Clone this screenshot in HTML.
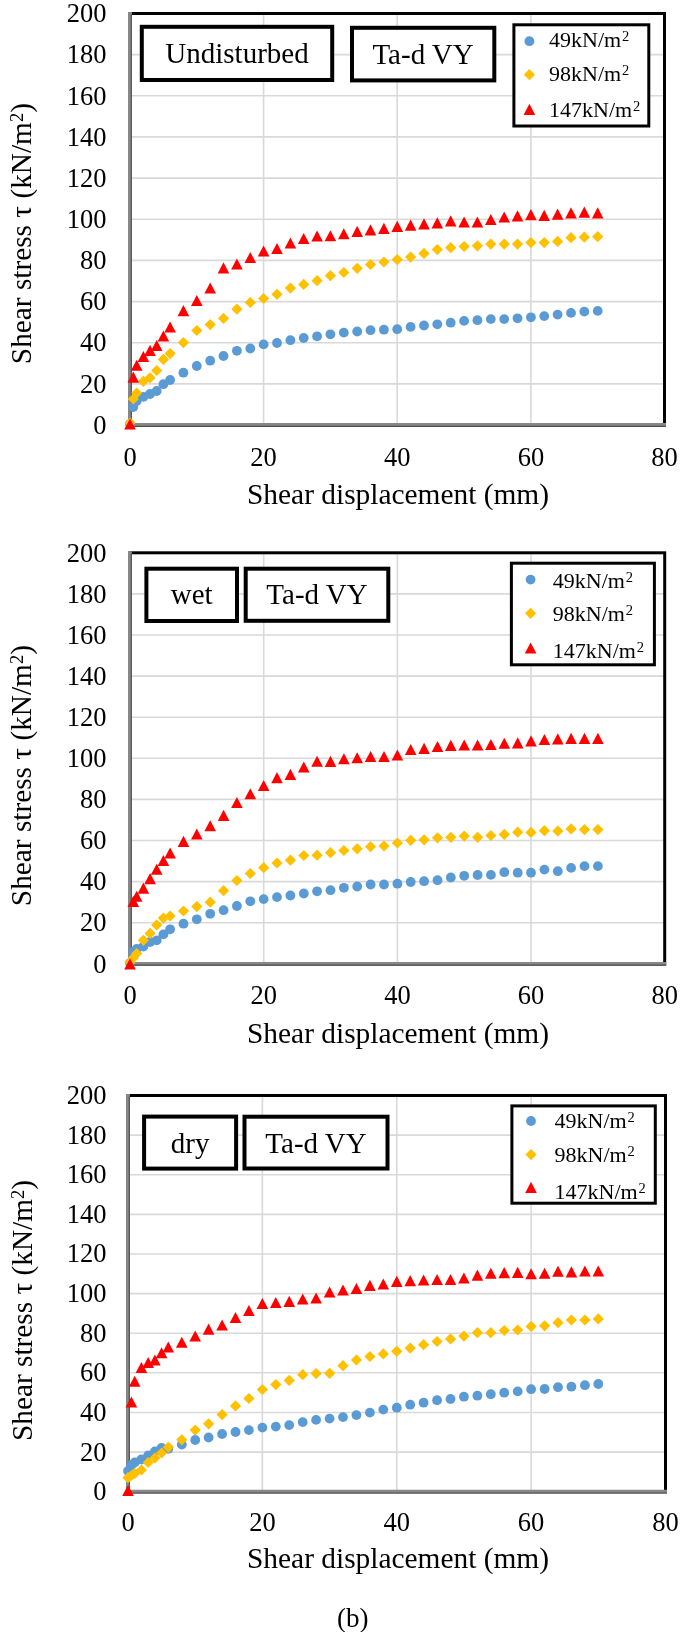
<!DOCTYPE html>
<html><head><meta charset="utf-8"><style>
html,body{margin:0;padding:0;background:#fff;}
svg{display:block;filter:blur(0.45px);}
text{font-family:"Liberation Serif",serif;fill:#000;}
</style></head><body>
<svg width="685" height="1632" viewBox="0 0 685 1632">
<rect width="685" height="1632" fill="#fff"/>
<path d="M130 383.9H664.5M130 342.7H664.5M130 301.6H664.5M130 260.4H664.5M130 219.2H664.5M130 178.1H664.5M130 136.9H664.5M130 95.8H664.5M130 54.6H664.5M263.6 13.5V425M397.2 13.5V425M530.9 13.5V425" stroke="#d9d9d9" stroke-width="1.6" fill="none"/>
<rect x="130" y="13.5" width="534.5" height="411.5" fill="none" stroke="#000" stroke-width="3"/>
<path d="M130 12V425H666" stroke="#888" stroke-width="3.8" fill="none"/>
<path d="M131.3 14.5V425" stroke="#555" stroke-width="1.2" fill="none"/>
<path d="M128.1 426.3H666" stroke="#505050" stroke-width="1.2" fill="none"/>
<g text-anchor="end" font-size="26.5"><text x="106.5" y="433.7">0</text><text x="106.5" y="392.6">20</text><text x="106.5" y="351.4">40</text><text x="106.5" y="310.2">60</text><text x="106.5" y="269.1">80</text><text x="106.5" y="227.9">100</text><text x="106.5" y="186.8">120</text><text x="106.5" y="145.6">140</text><text x="106.5" y="104.5">160</text><text x="106.5" y="63.3">180</text><text x="106.5" y="22.2">200</text></g>
<g text-anchor="middle" font-size="26.5"><text x="130" y="465.5">0</text><text x="263.6" y="465.5">20</text><text x="397.2" y="465.5">40</text><text x="530.9" y="465.5">60</text><text x="664.5" y="465.5">80</text></g>
<text x="398" y="504" text-anchor="middle" font-size="29.4">Shear displacement (mm)</text>
<text transform="translate(31.3 233.6) rotate(-90)" text-anchor="middle" font-size="29.3">Shear stress τ (kN/m<tspan font-size="18.5" dy="-8.5">2</tspan><tspan dy="8.5">)</tspan></text>
<g fill="#5b9bd5"><circle cx="130" cy="424" r="4.9"/><circle cx="133.3" cy="407" r="4.9"/><circle cx="136.7" cy="401" r="4.9"/><circle cx="143.4" cy="396.8" r="4.9"/><circle cx="150" cy="394" r="4.9"/><circle cx="156.7" cy="391" r="4.9"/><circle cx="163.4" cy="384.2" r="4.9"/><circle cx="170.1" cy="380" r="4.9"/><circle cx="183.4" cy="372.7" r="4.9"/><circle cx="196.8" cy="366" r="4.9"/><circle cx="210.2" cy="360.7" r="4.9"/><circle cx="223.5" cy="356" r="4.9"/><circle cx="236.9" cy="350.8" r="4.9"/><circle cx="250.3" cy="348.5" r="4.9"/><circle cx="263.6" cy="344.4" r="4.9"/><circle cx="277" cy="343" r="4.9"/><circle cx="290.4" cy="340.2" r="4.9"/><circle cx="303.7" cy="338" r="4.9"/><circle cx="317.1" cy="336.3" r="4.9"/><circle cx="330.4" cy="334.3" r="4.9"/><circle cx="343.8" cy="332.6" r="4.9"/><circle cx="357.2" cy="331.5" r="4.9"/><circle cx="370.5" cy="330.2" r="4.9"/><circle cx="383.9" cy="329.7" r="4.9"/><circle cx="397.2" cy="329.2" r="4.9"/><circle cx="410.6" cy="326.9" r="4.9"/><circle cx="424" cy="325.5" r="4.9"/><circle cx="437.3" cy="324.3" r="4.9"/><circle cx="450.7" cy="322.7" r="4.9"/><circle cx="464.1" cy="320.9" r="4.9"/><circle cx="477.4" cy="320.2" r="4.9"/><circle cx="490.8" cy="319.1" r="4.9"/><circle cx="504.2" cy="319.1" r="4.9"/><circle cx="517.5" cy="318.3" r="4.9"/><circle cx="530.9" cy="317.3" r="4.9"/><circle cx="544.2" cy="316.1" r="4.9"/><circle cx="557.6" cy="314.6" r="4.9"/><circle cx="571" cy="312.9" r="4.9"/><circle cx="584.3" cy="311.6" r="4.9"/><circle cx="597.7" cy="310.9" r="4.9"/></g>
<g fill="#ffc000"><path d="M130 417.4L135.6 423L130 428.6L124.4 423Z"/><path d="M133.3 393.4L138.9 399L133.3 404.6L127.7 399Z"/><path d="M136.7 387.4L142.3 393L136.7 398.6L131.1 393Z"/><path d="M143.4 375.7L149 381.3L143.4 386.9L137.8 381.3Z"/><path d="M150 372.2L155.6 377.8L150 383.4L144.4 377.8Z"/><path d="M156.7 364.9L162.3 370.5L156.7 376.1L151.1 370.5Z"/><path d="M163.4 353.8L169 359.4L163.4 365L157.8 359.4Z"/><path d="M170.1 348L175.7 353.6L170.1 359.2L164.5 353.6Z"/><path d="M183.4 337L189 342.6L183.4 348.2L177.8 342.6Z"/><path d="M196.8 324.9L202.4 330.5L196.8 336.1L191.2 330.5Z"/><path d="M210.2 319L215.8 324.6L210.2 330.2L204.6 324.6Z"/><path d="M223.5 312.8L229.1 318.4L223.5 324L217.9 318.4Z"/><path d="M236.9 303.6L242.5 309.2L236.9 314.8L231.3 309.2Z"/><path d="M250.3 296.9L255.9 302.5L250.3 308.1L244.7 302.5Z"/><path d="M263.6 292.9L269.2 298.5L263.6 304.1L258 298.5Z"/><path d="M277 288.7L282.6 294.3L277 299.9L271.4 294.3Z"/><path d="M290.4 282.5L296 288.1L290.4 293.7L284.8 288.1Z"/><path d="M303.7 278.8L309.3 284.4L303.7 290L298.1 284.4Z"/><path d="M317.1 275.1L322.7 280.7L317.1 286.3L311.5 280.7Z"/><path d="M330.4 270.1L336 275.7L330.4 281.3L324.8 275.7Z"/><path d="M343.8 266.9L349.4 272.5L343.8 278.1L338.2 272.5Z"/><path d="M357.2 262.7L362.8 268.3L357.2 273.9L351.6 268.3Z"/><path d="M370.5 258.9L376.1 264.5L370.5 270.1L364.9 264.5Z"/><path d="M383.9 256.4L389.5 262L383.9 267.6L378.3 262Z"/><path d="M397.2 254L402.9 259.6L397.2 265.2L391.6 259.6Z"/><path d="M410.6 251.5L416.2 257.1L410.6 262.7L405 257.1Z"/><path d="M424 247.8L429.6 253.4L424 259L418.4 253.4Z"/><path d="M437.3 244L442.9 249.6L437.3 255.2L431.7 249.6Z"/><path d="M450.7 242.1L456.3 247.7L450.7 253.3L445.1 247.7Z"/><path d="M464.1 240.9L469.7 246.5L464.1 252.1L458.5 246.5Z"/><path d="M477.4 240.2L483 245.8L477.4 251.4L471.8 245.8Z"/><path d="M490.8 238.5L496.4 244.1L490.8 249.7L485.2 244.1Z"/><path d="M504.2 238.5L509.8 244.1L504.2 249.7L498.6 244.1Z"/><path d="M517.5 238.5L523.1 244.1L517.5 249.7L511.9 244.1Z"/><path d="M530.9 237L536.5 242.6L530.9 248.2L525.3 242.6Z"/><path d="M544.2 237L549.8 242.6L544.2 248.2L538.6 242.6Z"/><path d="M557.6 235.8L563.2 241.4L557.6 247L552 241.4Z"/><path d="M571 232.1L576.6 237.7L571 243.3L565.4 237.7Z"/><path d="M584.3 231.6L589.9 237.2L584.3 242.8L578.7 237.2Z"/><path d="M597.7 231.1L603.3 236.7L597.7 242.3L592.1 236.7Z"/></g>
<g fill="#ff0000"><path d="M130 418.5L135.8 429.6L124.2 429.6Z"/><path d="M133.3 371.6L139.1 382.7L127.5 382.7Z"/><path d="M136.7 359.7L142.5 370.8L130.9 370.8Z"/><path d="M143.4 351L149.2 362.1L137.6 362.1Z"/><path d="M150 344.8L155.8 355.9L144.2 355.9Z"/><path d="M156.7 340L162.5 351.1L150.9 351.1Z"/><path d="M163.4 330.5L169.2 341.6L157.6 341.6Z"/><path d="M170.1 321.5L175.9 332.6L164.3 332.6Z"/><path d="M183.4 305.1L189.2 316.2L177.6 316.2Z"/><path d="M196.8 294.9L202.6 306L191 306Z"/><path d="M210.2 282.4L216 293.5L204.4 293.5Z"/><path d="M223.5 262.3L229.3 273.4L217.7 273.4Z"/><path d="M236.9 258.5L242.7 269.6L231.1 269.6Z"/><path d="M250.3 252L256.1 263.1L244.5 263.1Z"/><path d="M263.6 245.5L269.4 256.6L257.8 256.6Z"/><path d="M277 243L282.8 254.1L271.2 254.1Z"/><path d="M290.4 237.5L296.2 248.6L284.6 248.6Z"/><path d="M303.7 233L309.5 244.1L297.9 244.1Z"/><path d="M317.1 230.4L322.9 241.5L311.3 241.5Z"/><path d="M330.4 230.2L336.2 241.3L324.6 241.3Z"/><path d="M343.8 228.2L349.6 239.3L338 239.3Z"/><path d="M357.2 225.8L363 236.9L351.4 236.9Z"/><path d="M370.5 224.3L376.3 235.4L364.7 235.4Z"/><path d="M383.9 222.8L389.7 233.9L378.1 233.9Z"/><path d="M397.2 220.8L403.1 231.9L391.4 231.9Z"/><path d="M410.6 219.6L416.4 230.7L404.8 230.7Z"/><path d="M424 218.3L429.8 229.4L418.2 229.4Z"/><path d="M437.3 217.3L443.1 228.4L431.5 228.4Z"/><path d="M450.7 215.3L456.5 226.4L444.9 226.4Z"/><path d="M464.1 216.5L469.9 227.6L458.3 227.6Z"/><path d="M477.4 216.5L483.2 227.6L471.6 227.6Z"/><path d="M490.8 214L496.6 225.1L485 225.1Z"/><path d="M504.2 211.5L510 222.6L498.4 222.6Z"/><path d="M517.5 210.3L523.3 221.4L511.7 221.4Z"/><path d="M530.9 209.1L536.7 220.2L525.1 220.2Z"/><path d="M544.2 209.8L550 220.9L538.4 220.9Z"/><path d="M557.6 208.6L563.4 219.7L551.8 219.7Z"/><path d="M571 207.3L576.8 218.4L565.2 218.4Z"/><path d="M584.3 206.6L590.1 217.7L578.5 217.7Z"/><path d="M597.7 207.3L603.5 218.4L591.9 218.4Z"/></g>
<rect x="141.8" y="26.8" width="190.4" height="53.2" fill="#fff" stroke="#000" stroke-width="4"/>
<text x="237" y="63.4" text-anchor="middle" font-size="29">Undisturbed</text>
<rect x="352" y="27.8" width="142.3" height="52.6" fill="#fff" stroke="#000" stroke-width="4"/>
<text x="423.1" y="64.4" text-anchor="middle" font-size="29">Ta-d VY</text>
<rect x="513.9" y="24.8" width="134.9" height="101.2" fill="#fff" stroke="#000" stroke-width="3"/>
<circle cx="529.4" cy="41.2" r="4.9" fill="#5b9bd5"/>
<g fill="#ffc000"><path d="M529.4 69.1L535 74.7L529.4 80.3L523.8 74.7Z"/></g>
<g fill="#ff0000"><path d="M529.4 103.8L535.2 114.9L523.6 114.9Z"/></g>
<text x="549" y="46.8" font-size="22">49kN/m<tspan font-size="14.5" dx="0.8" dy="-6">2</tspan></text>
<text x="549" y="81.2" font-size="22">98kN/m<tspan font-size="14.5" dx="0.8" dy="-6">2</tspan></text>
<text x="549" y="117.4" font-size="22">147kN/m<tspan font-size="14.5" dx="0.8" dy="-6">2</tspan></text>
<path d="M130 922.7H664.7M130 881.6H664.7M130 840.5H664.7M130 799.4H664.7M130 758.3H664.7M130 717.2H664.7M130 676.1H664.7M130 635H664.7M130 593.9H664.7M263.7 552.8V963.8M397.4 552.8V963.8M531 552.8V963.8" stroke="#d9d9d9" stroke-width="1.6" fill="none"/>
<rect x="130" y="552.8" width="534.7" height="411" fill="none" stroke="#000" stroke-width="3"/>
<path d="M130 551.3V963.8H666.2" stroke="#888" stroke-width="3.8" fill="none"/>
<path d="M131.3 553.8V963.8" stroke="#555" stroke-width="1.2" fill="none"/>
<path d="M128.1 965.1H666.2" stroke="#505050" stroke-width="1.2" fill="none"/>
<g text-anchor="end" font-size="26.5"><text x="106.5" y="972.5">0</text><text x="106.5" y="931.4">20</text><text x="106.5" y="890.3">40</text><text x="106.5" y="849.2">60</text><text x="106.5" y="808.1">80</text><text x="106.5" y="767">100</text><text x="106.5" y="725.9">120</text><text x="106.5" y="684.8">140</text><text x="106.5" y="643.7">160</text><text x="106.5" y="602.6">180</text><text x="106.5" y="561.5">200</text></g>
<g text-anchor="middle" font-size="26.5"><text x="130" y="1004.3">0</text><text x="263.7" y="1004.3">20</text><text x="397.4" y="1004.3">40</text><text x="531" y="1004.3">60</text><text x="664.7" y="1004.3">80</text></g>
<text x="398" y="1042.7" text-anchor="middle" font-size="29.4">Shear displacement (mm)</text>
<text transform="translate(31.3 775.6) rotate(-90)" text-anchor="middle" font-size="29.3">Shear stress τ (kN/m<tspan font-size="18.5" dy="-8.5">2</tspan><tspan dy="8.5">)</tspan></text>
<g fill="#5b9bd5"><circle cx="130" cy="963" r="4.9"/><circle cx="133.3" cy="952" r="4.9"/><circle cx="136.7" cy="949" r="4.9"/><circle cx="143.4" cy="946.5" r="4.9"/><circle cx="150.1" cy="942" r="4.9"/><circle cx="156.7" cy="940.4" r="4.9"/><circle cx="163.4" cy="934.4" r="4.9"/><circle cx="170.1" cy="929.3" r="4.9"/><circle cx="183.5" cy="923.7" r="4.9"/><circle cx="196.8" cy="919.3" r="4.9"/><circle cx="210.2" cy="913.8" r="4.9"/><circle cx="223.6" cy="910.2" r="4.9"/><circle cx="236.9" cy="906" r="4.9"/><circle cx="250.3" cy="901.3" r="4.9"/><circle cx="263.7" cy="899.1" r="4.9"/><circle cx="277" cy="897.1" r="4.9"/><circle cx="290.4" cy="895.5" r="4.9"/><circle cx="303.8" cy="893.5" r="4.9"/><circle cx="317.1" cy="891.3" r="4.9"/><circle cx="330.5" cy="890.2" r="4.9"/><circle cx="343.9" cy="887.8" r="4.9"/><circle cx="357.2" cy="886.5" r="4.9"/><circle cx="370.6" cy="884.5" r="4.9"/><circle cx="384" cy="884.5" r="4.9"/><circle cx="397.4" cy="883.7" r="4.9"/><circle cx="410.7" cy="882" r="4.9"/><circle cx="424.1" cy="881.2" r="4.9"/><circle cx="437.5" cy="880.2" r="4.9"/><circle cx="450.8" cy="877.5" r="4.9"/><circle cx="464.2" cy="875.8" r="4.9"/><circle cx="477.6" cy="875" r="4.9"/><circle cx="490.9" cy="874.9" r="4.9"/><circle cx="504.3" cy="872.2" r="4.9"/><circle cx="517.7" cy="872.7" r="4.9"/><circle cx="531" cy="872.7" r="4.9"/><circle cx="544.4" cy="869.6" r="4.9"/><circle cx="557.8" cy="871.2" r="4.9"/><circle cx="571.1" cy="867.9" r="4.9"/><circle cx="584.5" cy="866.1" r="4.9"/><circle cx="597.9" cy="866.1" r="4.9"/></g>
<g fill="#ffc000"><path d="M130 956.4L135.6 962L130 967.6L124.4 962Z"/><path d="M133.3 952.4L138.9 958L133.3 963.6L127.7 958Z"/><path d="M136.7 947.9L142.3 953.5L136.7 959.1L131.1 953.5Z"/><path d="M143.4 934.7L149 940.3L143.4 945.9L137.8 940.3Z"/><path d="M150.1 927.8L155.7 933.4L150.1 939L144.5 933.4Z"/><path d="M156.7 919.4L162.3 925L156.7 930.6L151.1 925Z"/><path d="M163.4 912.5L169 918.1L163.4 923.7L157.8 918.1Z"/><path d="M170.1 910.4L175.7 916L170.1 921.6L164.5 916Z"/><path d="M183.5 905.4L189.1 911L183.5 916.6L177.9 911Z"/><path d="M196.8 901L202.4 906.6L196.8 912.2L191.2 906.6Z"/><path d="M210.2 896.6L215.8 902.2L210.2 907.8L204.6 902.2Z"/><path d="M223.6 885.1L229.2 890.7L223.6 896.3L218 890.7Z"/><path d="M236.9 874.9L242.5 880.5L236.9 886.1L231.3 880.5Z"/><path d="M250.3 867.9L255.9 873.5L250.3 879.1L244.7 873.5Z"/><path d="M263.7 862.1L269.3 867.7L263.7 873.3L258.1 867.7Z"/><path d="M277 857.4L282.6 863L277 868.6L271.4 863Z"/><path d="M290.4 854.6L296 860.2L290.4 865.8L284.8 860.2Z"/><path d="M303.8 849.9L309.4 855.5L303.8 861.1L298.2 855.5Z"/><path d="M317.1 849.6L322.7 855.2L317.1 860.8L311.5 855.2Z"/><path d="M330.5 847.1L336.1 852.7L330.5 858.3L324.9 852.7Z"/><path d="M343.9 844.9L349.5 850.5L343.9 856.1L338.3 850.5Z"/><path d="M357.2 843.2L362.8 848.8L357.2 854.4L351.6 848.8Z"/><path d="M370.6 841.1L376.2 846.7L370.6 852.3L365 846.7Z"/><path d="M384 840.4L389.6 846L384 851.6L378.4 846Z"/><path d="M397.4 837.4L403 843L397.4 848.6L391.8 843Z"/><path d="M410.7 834.7L416.3 840.3L410.7 845.9L405.1 840.3Z"/><path d="M424.1 834.2L429.7 839.8L424.1 845.4L418.5 839.8Z"/><path d="M437.5 832.2L443.1 837.8L437.5 843.4L431.9 837.8Z"/><path d="M450.8 831.7L456.4 837.3L450.8 842.9L445.2 837.3Z"/><path d="M464.2 830.5L469.8 836.1L464.2 841.7L458.6 836.1Z"/><path d="M477.6 831.7L483.2 837.3L477.6 842.9L472 837.3Z"/><path d="M490.9 829.9L496.5 835.5L490.9 841.1L485.3 835.5Z"/><path d="M504.3 828.8L509.9 834.4L504.3 840L498.7 834.4Z"/><path d="M517.7 826.6L523.3 832.2L517.7 837.8L512.1 832.2Z"/><path d="M531 826.8L536.6 832.4L531 838L525.4 832.4Z"/><path d="M544.4 825.1L550 830.7L544.4 836.3L538.8 830.7Z"/><path d="M557.8 825.5L563.4 831.1L557.8 836.7L552.2 831.1Z"/><path d="M571.1 823.3L576.7 828.9L571.1 834.5L565.5 828.9Z"/><path d="M584.5 824L590.1 829.6L584.5 835.2L578.9 829.6Z"/><path d="M597.9 824L603.5 829.6L597.9 835.2L592.3 829.6Z"/></g>
<g fill="#ff0000"><path d="M130 958.3L135.8 969.4L124.2 969.4Z"/><path d="M133.3 895.8L139.1 906.9L127.5 906.9Z"/><path d="M136.7 890.7L142.5 901.8L130.9 901.8Z"/><path d="M143.4 882.6L149.2 893.7L137.6 893.7Z"/><path d="M150.1 873.1L155.9 884.2L144.3 884.2Z"/><path d="M156.7 863.7L162.5 874.8L150.9 874.8Z"/><path d="M163.4 854.9L169.2 866L157.6 866Z"/><path d="M170.1 847.5L175.9 858.6L164.3 858.6Z"/><path d="M183.5 835.8L189.3 846.9L177.7 846.9Z"/><path d="M196.8 828.4L202.6 839.5L191 839.5Z"/><path d="M210.2 820.2L216 831.3L204.4 831.3Z"/><path d="M223.6 809.8L229.4 820.9L217.8 820.9Z"/><path d="M236.9 796.9L242.7 808L231.1 808Z"/><path d="M250.3 788.2L256.1 799.3L244.5 799.3Z"/><path d="M263.7 780L269.5 791.1L257.9 791.1Z"/><path d="M277 772.1L282.8 783.2L271.2 783.2Z"/><path d="M290.4 768.8L296.2 779.9L284.6 779.9Z"/><path d="M303.8 761.4L309.6 772.5L298 772.5Z"/><path d="M317.1 755.7L322.9 766.8L311.3 766.8Z"/><path d="M330.5 755.8L336.3 766.9L324.7 766.9Z"/><path d="M343.9 753.2L349.7 764.3L338.1 764.3Z"/><path d="M357.2 752.2L363 763.3L351.4 763.3Z"/><path d="M370.6 751L376.4 762.1L364.8 762.1Z"/><path d="M384 751L389.8 762.1L378.2 762.1Z"/><path d="M397.4 749.5L403.2 760.6L391.6 760.6Z"/><path d="M410.7 744L416.5 755.1L404.9 755.1Z"/><path d="M424.1 742.8L429.9 753.9L418.3 753.9Z"/><path d="M437.5 741L443.3 752.1L431.7 752.1Z"/><path d="M450.8 739.8L456.6 750.9L445 750.9Z"/><path d="M464.2 739.4L470 750.5L458.4 750.5Z"/><path d="M477.6 739.4L483.4 750.5L471.8 750.5Z"/><path d="M490.9 739L496.7 750.1L485.1 750.1Z"/><path d="M504.3 737.7L510.1 748.8L498.5 748.8Z"/><path d="M517.7 737.3L523.5 748.4L511.9 748.4Z"/><path d="M531 735.3L536.8 746.4L525.2 746.4Z"/><path d="M544.4 734L550.2 745.1L538.6 745.1Z"/><path d="M557.8 733.3L563.6 744.4L552 744.4Z"/><path d="M571.1 732.8L576.9 743.9L565.3 743.9Z"/><path d="M584.5 732.8L590.3 743.9L578.7 743.9Z"/><path d="M597.9 732.8L603.7 743.9L592.1 743.9Z"/></g>
<rect x="146.4" y="568.7" width="90.6" height="52.3" fill="#fff" stroke="#000" stroke-width="4"/>
<text x="191.7" y="603.8" text-anchor="middle" font-size="29">wet</text>
<rect x="245.7" y="568.7" width="142.6" height="52.1" fill="#fff" stroke="#000" stroke-width="4"/>
<text x="317" y="603.8" text-anchor="middle" font-size="29">Ta-d VY</text>
<rect x="511.4" y="563.2" width="143" height="101.6" fill="#fff" stroke="#000" stroke-width="3"/>
<circle cx="530.6" cy="579.6" r="4.9" fill="#5b9bd5"/>
<g fill="#ffc000"><path d="M530.6 607.7L536.2 613.3L530.6 618.9L525 613.3Z"/></g>
<g fill="#ff0000"><path d="M530.6 642.4L536.4 653.5L524.8 653.5Z"/></g>
<text x="552.8" y="587.5" font-size="22">49kN/m<tspan font-size="14.5" dx="0.8" dy="-6">2</tspan></text>
<text x="552.8" y="621.2" font-size="22">98kN/m<tspan font-size="14.5" dx="0.8" dy="-6">2</tspan></text>
<text x="552.8" y="658" font-size="22">147kN/m<tspan font-size="14.5" dx="0.8" dy="-6">2</tspan></text>
<path d="M128 1452.1H665.5M128 1412.5H665.5M128 1372.8H665.5M128 1333.2H665.5M128 1293.6H665.5M128 1254H665.5M128 1214.4H665.5M128 1174.7H665.5M128 1135.1H665.5M262.4 1095.5V1491.7M396.8 1095.5V1491.7M531.1 1095.5V1491.7" stroke="#d9d9d9" stroke-width="1.6" fill="none"/>
<rect x="128" y="1095.5" width="537.5" height="396.2" fill="none" stroke="#000" stroke-width="3"/>
<path d="M128 1094V1491.7H667" stroke="#888" stroke-width="3.8" fill="none"/>
<path d="M129.3 1096.5V1491.7" stroke="#555" stroke-width="1.2" fill="none"/>
<path d="M126.1 1493H667" stroke="#505050" stroke-width="1.2" fill="none"/>
<g text-anchor="end" font-size="26.5"><text x="106.5" y="1500.1">0</text><text x="106.5" y="1460.5">20</text><text x="106.5" y="1420.8">40</text><text x="106.5" y="1381.2">60</text><text x="106.5" y="1341.6">80</text><text x="106.5" y="1302">100</text><text x="106.5" y="1262.4">120</text><text x="106.5" y="1222.7">140</text><text x="106.5" y="1183.1">160</text><text x="106.5" y="1143.5">180</text><text x="106.5" y="1103.9">200</text></g>
<g text-anchor="middle" font-size="26.5"><text x="128" y="1530.7">0</text><text x="262.4" y="1530.7">20</text><text x="396.8" y="1530.7">40</text><text x="531.1" y="1530.7">60</text><text x="665.5" y="1530.7">80</text></g>
<text x="398" y="1567.8" text-anchor="middle" font-size="29.4">Shear displacement (mm)</text>
<text transform="translate(32 1310.5) rotate(-90)" text-anchor="middle" font-size="29.3">Shear stress τ (kN/m<tspan font-size="18.5" dy="-8.5">2</tspan><tspan dy="8.5">)</tspan></text>
<g fill="#5b9bd5"><circle cx="128" cy="1471" r="4.9"/><circle cx="131.4" cy="1465" r="4.9"/><circle cx="134.7" cy="1462.5" r="4.9"/><circle cx="141.4" cy="1459.5" r="4.9"/><circle cx="148.2" cy="1455.4" r="4.9"/><circle cx="154.9" cy="1451.5" r="4.9"/><circle cx="161.6" cy="1448" r="4.9"/><circle cx="168.3" cy="1448.8" r="4.9"/><circle cx="181.8" cy="1444.5" r="4.9"/><circle cx="195.2" cy="1440" r="4.9"/><circle cx="208.6" cy="1437.5" r="4.9"/><circle cx="222.1" cy="1434" r="4.9"/><circle cx="235.5" cy="1432" r="4.9"/><circle cx="248.9" cy="1430.1" r="4.9"/><circle cx="262.4" cy="1427.6" r="4.9"/><circle cx="275.8" cy="1426.6" r="4.9"/><circle cx="289.2" cy="1425.1" r="4.9"/><circle cx="302.7" cy="1422.1" r="4.9"/><circle cx="316.1" cy="1419.9" r="4.9"/><circle cx="329.6" cy="1418.6" r="4.9"/><circle cx="343" cy="1417.1" r="4.9"/><circle cx="356.4" cy="1415.1" r="4.9"/><circle cx="369.9" cy="1412.6" r="4.9"/><circle cx="383.3" cy="1409.6" r="4.9"/><circle cx="396.8" cy="1407.7" r="4.9"/><circle cx="410.2" cy="1404.7" r="4.9"/><circle cx="423.6" cy="1402.7" r="4.9"/><circle cx="437.1" cy="1400.2" r="4.9"/><circle cx="450.5" cy="1399" r="4.9"/><circle cx="463.9" cy="1396.7" r="4.9"/><circle cx="477.4" cy="1395.7" r="4.9"/><circle cx="490.8" cy="1394.2" r="4.9"/><circle cx="504.2" cy="1392.7" r="4.9"/><circle cx="517.7" cy="1391.4" r="4.9"/><circle cx="531.1" cy="1389.2" r="4.9"/><circle cx="544.6" cy="1389" r="4.9"/><circle cx="558" cy="1387.2" r="4.9"/><circle cx="571.4" cy="1386.7" r="4.9"/><circle cx="584.9" cy="1385.2" r="4.9"/><circle cx="598.3" cy="1384" r="4.9"/></g>
<g fill="#ffc000"><path d="M128 1472.1L133.6 1477.7L128 1483.3L122.4 1477.7Z"/><path d="M131.4 1469.9L137 1475.5L131.4 1481.1L125.8 1475.5Z"/><path d="M134.7 1467.9L140.3 1473.5L134.7 1479.1L129.1 1473.5Z"/><path d="M141.4 1464.4L147 1470L141.4 1475.6L135.8 1470Z"/><path d="M148.2 1456.9L153.8 1462.5L148.2 1468.1L142.6 1462.5Z"/><path d="M154.9 1452.4L160.5 1458L154.9 1463.6L149.3 1458Z"/><path d="M161.6 1447.4L167.2 1453L161.6 1458.6L156 1453Z"/><path d="M168.3 1441.7L173.9 1447.3L168.3 1452.9L162.7 1447.3Z"/><path d="M181.8 1434.2L187.3 1439.8L181.8 1445.4L176.2 1439.8Z"/><path d="M195.2 1424.5L200.8 1430.1L195.2 1435.7L189.6 1430.1Z"/><path d="M208.6 1418.2L214.2 1423.8L208.6 1429.4L203 1423.8Z"/><path d="M222.1 1409L227.7 1414.6L222.1 1420.2L216.5 1414.6Z"/><path d="M235.5 1400.3L241.1 1405.9L235.5 1411.5L229.9 1405.9Z"/><path d="M248.9 1392.9L254.5 1398.5L248.9 1404.1L243.3 1398.5Z"/><path d="M262.4 1383.9L268 1389.5L262.4 1395.1L256.8 1389.5Z"/><path d="M275.8 1379L281.4 1384.6L275.8 1390.2L270.2 1384.6Z"/><path d="M289.2 1374.8L294.9 1380.4L289.2 1386L283.6 1380.4Z"/><path d="M302.7 1369.1L308.3 1374.7L302.7 1380.3L297.1 1374.7Z"/><path d="M316.1 1368L321.7 1373.6L316.1 1379.2L310.5 1373.6Z"/><path d="M329.6 1367.7L335.2 1373.3L329.6 1378.9L324 1373.3Z"/><path d="M343 1360.1L348.6 1365.7L343 1371.3L337.4 1365.7Z"/><path d="M356.4 1354.3L362 1359.9L356.4 1365.5L350.8 1359.9Z"/><path d="M369.9 1350.9L375.5 1356.5L369.9 1362.1L364.3 1356.5Z"/><path d="M383.3 1348.3L388.9 1353.9L383.3 1359.5L377.7 1353.9Z"/><path d="M396.8 1345.7L402.4 1351.3L396.8 1356.9L391.1 1351.3Z"/><path d="M410.2 1342.5L415.8 1348.1L410.2 1353.7L404.6 1348.1Z"/><path d="M423.6 1339.1L429.2 1344.7L423.6 1350.3L418 1344.7Z"/><path d="M437.1 1335.9L442.7 1341.5L437.1 1347.1L431.5 1341.5Z"/><path d="M450.5 1333.3L456.1 1338.9L450.5 1344.5L444.9 1338.9Z"/><path d="M463.9 1330.5L469.5 1336.1L463.9 1341.7L458.3 1336.1Z"/><path d="M477.4 1327.1L483 1332.7L477.4 1338.3L471.8 1332.7Z"/><path d="M490.8 1327.1L496.4 1332.7L490.8 1338.3L485.2 1332.7Z"/><path d="M504.2 1324.9L509.9 1330.5L504.2 1336.1L498.6 1330.5Z"/><path d="M517.7 1324.4L523.3 1330L517.7 1335.6L512.1 1330Z"/><path d="M531.1 1320.8L536.7 1326.4L531.1 1332L525.5 1326.4Z"/><path d="M544.6 1320.2L550.2 1325.8L544.6 1331.4L539 1325.8Z"/><path d="M558 1317.1L563.6 1322.7L558 1328.3L552.4 1322.7Z"/><path d="M571.4 1314.4L577 1320L571.4 1325.6L565.8 1320Z"/><path d="M584.9 1314.4L590.5 1320L584.9 1325.6L579.3 1320Z"/><path d="M598.3 1313.3L603.9 1318.9L598.3 1324.5L592.7 1318.9Z"/></g>
<g fill="#ff0000"><path d="M128 1485L133.8 1496.1L122.2 1496.1Z"/><path d="M131.4 1396.5L137.2 1407.6L125.6 1407.6Z"/><path d="M134.7 1375.7L140.5 1386.8L128.9 1386.8Z"/><path d="M141.4 1362L147.2 1373.1L135.6 1373.1Z"/><path d="M148.2 1357L154 1368.1L142.4 1368.1Z"/><path d="M154.9 1354.5L160.7 1365.6L149.1 1365.6Z"/><path d="M161.6 1347.2L167.4 1358.3L155.8 1358.3Z"/><path d="M168.3 1341.5L174.1 1352.6L162.5 1352.6Z"/><path d="M181.8 1336.7L187.6 1347.8L175.9 1347.8Z"/><path d="M195.2 1330.5L201 1341.6L189.4 1341.6Z"/><path d="M208.6 1323.6L214.4 1334.7L202.8 1334.7Z"/><path d="M222.1 1319.4L227.9 1330.5L216.3 1330.5Z"/><path d="M235.5 1311.9L241.3 1323L229.7 1323Z"/><path d="M248.9 1305L254.7 1316.1L243.1 1316.1Z"/><path d="M262.4 1298L268.2 1309.1L256.6 1309.1Z"/><path d="M275.8 1297L281.6 1308.1L270 1308.1Z"/><path d="M289.2 1295.8L295.1 1306.9L283.4 1306.9Z"/><path d="M302.7 1293.4L308.5 1304.5L296.9 1304.5Z"/><path d="M316.1 1292.4L321.9 1303.5L310.3 1303.5Z"/><path d="M329.6 1286.4L335.4 1297.5L323.8 1297.5Z"/><path d="M343 1284.5L348.8 1295.6L337.2 1295.6Z"/><path d="M356.4 1282.9L362.2 1294L350.6 1294Z"/><path d="M369.9 1279.8L375.7 1290.9L364.1 1290.9Z"/><path d="M383.3 1278.5L389.1 1289.6L377.5 1289.6Z"/><path d="M396.8 1275.8L402.6 1286.9L390.9 1286.9Z"/><path d="M410.2 1275.1L416 1286.2L404.4 1286.2Z"/><path d="M423.6 1274.5L429.4 1285.6L417.8 1285.6Z"/><path d="M437.1 1274L442.9 1285.1L431.3 1285.1Z"/><path d="M450.5 1274L456.3 1285.1L444.7 1285.1Z"/><path d="M463.9 1272.4L469.7 1283.5L458.1 1283.5Z"/><path d="M477.4 1269.6L483.2 1280.7L471.6 1280.7Z"/><path d="M490.8 1267.7L496.6 1278.8L485 1278.8Z"/><path d="M504.2 1267.1L510.1 1278.2L498.4 1278.2Z"/><path d="M517.7 1266.8L523.5 1277.9L511.9 1277.9Z"/><path d="M531.1 1268.2L536.9 1279.3L525.3 1279.3Z"/><path d="M544.6 1267.7L550.4 1278.8L538.8 1278.8Z"/><path d="M558 1265.7L563.8 1276.8L552.2 1276.8Z"/><path d="M571.4 1266.3L577.2 1277.4L565.6 1277.4Z"/><path d="M584.9 1265.5L590.7 1276.6L579.1 1276.6Z"/><path d="M598.3 1265.5L604.1 1276.6L592.5 1276.6Z"/></g>
<rect x="144.1" y="1116.6" width="92" height="52" fill="#fff" stroke="#000" stroke-width="4"/>
<text x="190.1" y="1152.7" text-anchor="middle" font-size="29">dry</text>
<rect x="244.5" y="1116.7" width="143" height="51.8" fill="#fff" stroke="#000" stroke-width="4"/>
<text x="316" y="1152.7" text-anchor="middle" font-size="29">Ta-d VY</text>
<rect x="511.9" y="1105.9" width="143.4" height="97.3" fill="#fff" stroke="#000" stroke-width="3"/>
<circle cx="531" cy="1121" r="4.9" fill="#5b9bd5"/>
<g fill="#ffc000"><path d="M531 1149L536.6 1154.6L531 1160.2L525.4 1154.6Z"/></g>
<g fill="#ff0000"><path d="M531 1181.8L536.8 1192.9L525.2 1192.9Z"/></g>
<text x="554.6" y="1127.8" font-size="22">49kN/m<tspan font-size="14.5" dx="0.8" dy="-6">2</tspan></text>
<text x="554.6" y="1162" font-size="22">98kN/m<tspan font-size="14.5" dx="0.8" dy="-6">2</tspan></text>
<text x="554.6" y="1198.7" font-size="22">147kN/m<tspan font-size="14.5" dx="0.8" dy="-6">2</tspan></text>
<text x="352.8" y="1626.8" text-anchor="middle" font-size="27">(b)</text>
</svg>
</body></html>
